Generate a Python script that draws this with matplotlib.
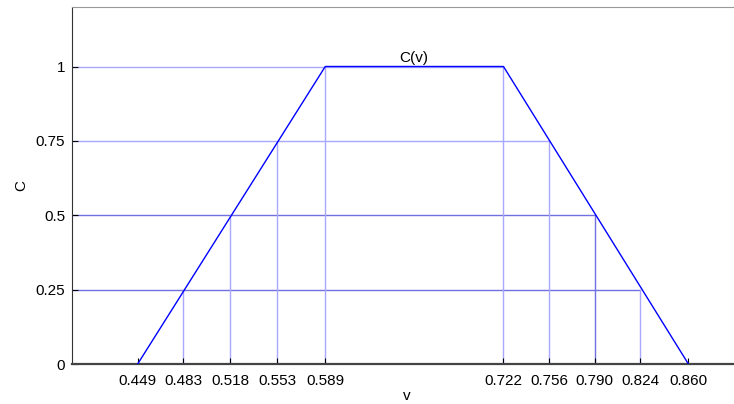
import numpy as np
import matplotlib
matplotlib.use('Agg')
from matplotlib import pyplot as plt

plt.rcParams['font.family'] = ['Liberation Sans', 'DejaVu Sans']

# 사다리꼴 함수 C(v) 의 꼭짓점
curve_v = [0.449, 0.589, 0.722, 0.860]
curve_c = [0.0, 1.0, 1.0, 0.0]

# 보조선: 상승 구간 / 하강 구간의 교점
rise_v = [0.483, 0.518, 0.553, 0.589]
fall_v = [0.824, 0.790, 0.756, 0.722]
levels = [0.25, 0.5, 0.75, 1.0]

xticks = [0.449, 0.483, 0.518, 0.553, 0.589, 0.722, 0.756, 0.790, 0.824, 0.860]
xtick_labels = ['0.449', '0.483', '0.518', '0.553', '0.589',
                '0.722', '0.756', '0.790', '0.824', '0.860']
yticks = [0, 0.25, 0.5, 0.75, 1]
ytick_labels = ['0', '0.25', '0.5', '0.75', '1']

light = '#a8a8ff'
mid = '#7070e0'
h_colors = [mid, mid, light, light]
rv_colors = [light, light, light, light]
fv_colors = [light, mid, light, light]

fig = plt.figure(figsize=(7.34, 4.04), dpi=100)
ax = fig.add_axes([72/734, 40/404, 670/734, 357/404])

for lv, r, f, hc, rc_, fc in zip(levels, rise_v, fall_v, h_colors, rv_colors, fv_colors):
    ax.plot([0.4, f], [lv, lv], color=hc, lw=1, zorder=1)
    ax.plot([r, r], [0, lv], color=rc_, lw=1, zorder=1)
    ax.plot([f, f], [0, lv], color=fc, lw=1, zorder=1)

ax.plot(curve_v, curve_c, color='#0000ff', lw=1.0, zorder=3)
ax.text(0.655, 1.005, 'C(v)', ha='center', va='bottom', fontsize=11)

ax.set_xlim(0.4, 0.9)
ax.set_ylim(0, 1.2)
ax.set_xticks(xticks)
ax.set_xticklabels(xtick_labels, fontsize=11)
ax.set_yticks(yticks)
ax.set_yticklabels(ytick_labels, fontsize=11)
ax.tick_params(direction='in', length=4, width=0.8, pad=7)
ax.tick_params(axis='y', pad=5)
ax.set_xlabel('v', fontsize=11, labelpad=1)
ax.set_ylabel('C', fontsize=11, labelpad=5)

ax.spines['top'].set_color('#999999')
ax.spines['left'].set_color('#333333')
ax.spines['bottom'].set_color('#444444')
ax.spines['bottom'].set_linewidth(1.6)
ax.spines['right'].set_visible(False)

fig.savefig('out.png', dpi=100)
